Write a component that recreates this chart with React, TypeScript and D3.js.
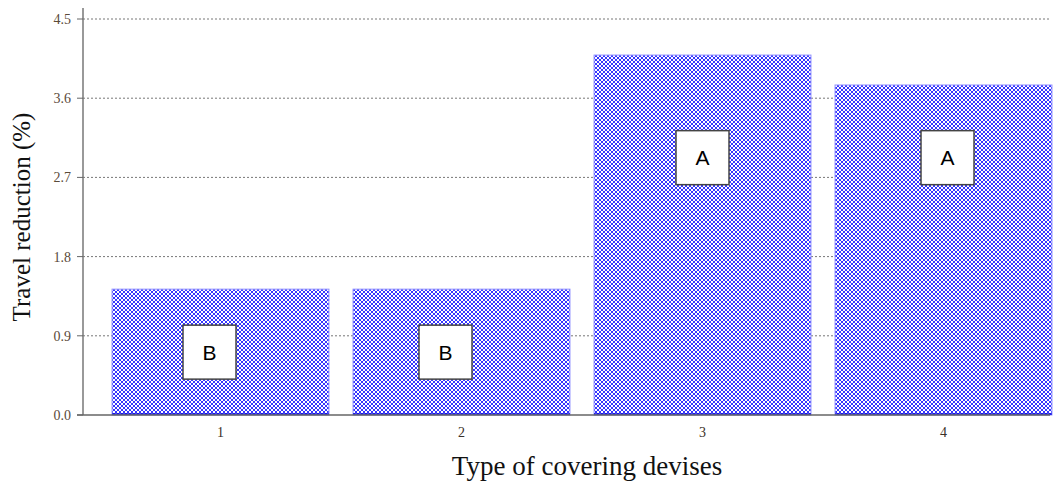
import * as d3 from "d3";

const categories = ["1", "2", "3", "4"];
const values = [1.43, 1.43, 4.09, 3.75];
const groups = ["B", "B", "A", "A"];
const groupY = [0.72, 0.72, 2.93, 2.93];
const groupShift = [-11, -16, 0, 4];
const yTicks = [0, 0.9, 1.8, 2.7, 3.6, 4.5];

const W = 1053;
const H = 481;

const App = () => {
  const x = d3
    .scaleBand<string>()
    .domain(categories)
    .range([100, 1064])
    .paddingInner(0.1)
    .paddingOuter(0.05);
  const y = d3.scaleLinear().domain([0, 4.5]).range([415, 19]);
  const axisX = 83;
  const box = 53;

  return (
    <svg
      width={W}
      height={H}
      style={{ position: "absolute", left: 0, top: 0, background: "#fff" }}
    >
      <defs>
        <pattern id="hatch" width={4} height={4} patternUnits="userSpaceOnUse">
          <rect width={4} height={4} fill="#fff" />
          <path d="M0,0 L4,4 M4,0 L0,4" stroke="#3535ff" strokeWidth={1} />
        </pattern>
      </defs>

      {yTicks.slice(1).map((t) => (
        <line
          key={"g" + t}
          x1={axisX}
          x2={1050}
          y1={y(t)}
          y2={y(t)}
          stroke="#777"
          strokeDasharray="2,2"
          strokeWidth={1}
        />
      ))}

      {categories.map((c, i) => {
        const x0 = x(c)!;
        const bw = x.bandwidth();
        const cx = x0 + bw / 2 + groupShift[i];
        return (
          <g key={c}>
            <rect
              x={x0}
              y={y(values[i])}
              width={bw}
              height={y(0) - y(values[i])}
              fill="url(#hatch)"
              stroke="#8f8fff"
              strokeWidth={1}
            />
            <line x1={x0} x2={x0 + bw} y1={y(0) - 1} y2={y(0) - 1} stroke="#1010e0" strokeWidth={1.5} />
            <rect
              x={cx - box / 2}
              y={y(groupY[i]) - box / 2}
              width={box}
              height={box + 1}
              fill="#fff"
              stroke="#444"
              strokeWidth={1.5}
            />
            <text
              x={cx}
              y={y(groupY[i]) + 8}
              textAnchor="middle"
              fontFamily="Liberation Sans, Arial, sans-serif"
              fontSize={21}
              fill="#000"
            >
              {groups[i]}
            </text>
            <text
              x={x0 + bw / 2}
              y={437}
              textAnchor="middle"
              fontFamily="Liberation Serif, Times New Roman, serif"
              fontSize={14}
              fill="#3a3028"
            >
              {c}
            </text>
          </g>
        );
      })}

      <line x1={axisX} x2={axisX} y1={8} y2={y(0)} stroke="#777" strokeWidth={1.5} />
      <line x1={axisX - 6} x2={1050} y1={y(0)} y2={y(0)} stroke="#666" strokeWidth={1.5} />
      {yTicks.map((t) => (
        <g key={"t" + t}>
          <line x1={axisX - 6} x2={axisX} y1={y(t)} y2={y(t)} stroke="#666" strokeWidth={1} />
          <text
            x={axisX - 12}
            y={y(t) + 5}
            textAnchor="end"
            fontFamily="Liberation Serif, Times New Roman, serif"
            fontSize={14}
            fill="#5a4a3a"
          >
            {d3.format(".1f")(t)}
          </text>
        </g>
      ))}

      <text
        transform={`translate(30,${(y(0) + y(4.5)) / 2}) rotate(-90)`}
        textAnchor="middle"
        fontFamily="Liberation Serif, Times New Roman, serif"
        fontSize={25}
        fill="#111"
      >
        Travel reduction (%)
      </text>
      <text
        x={587}
        y={475}
        textAnchor="middle"
        fontFamily="Liberation Serif, Times New Roman, serif"
        fontSize={27}
        fill="#111"
      >
        Type of covering devises
      </text>
    </svg>
  );
};

export default App;
